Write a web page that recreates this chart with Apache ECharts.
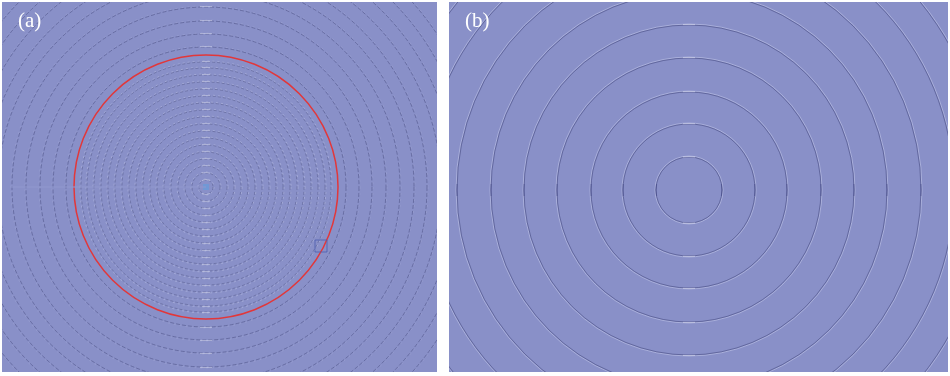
<!DOCTYPE html>
<html><head><meta charset="utf-8">
<script src="https://cdn.jsdelivr.net/npm/echarts@6/dist/echarts.min.js"></script>
<style>html,body{margin:0;padding:0;background:#fff}#c{width:950px;height:376px}</style>
</head><body><div id="c"></div>
<script>
// ---- data (units: pixel-equivalent distance from each pattern centre) ----
const panelLabels = ['(a)', '(b)'];
const ringsAInner = [7, 14, 21, 28, 35, 42, 49, 56, 63, 70, 77, 84, 91, 98, 105, 112, 119, 125];
const ringsAOuter = [140, 153, 166, 180, 194, 208, 221, 235, 249, 263, 277];
const redCircleA = [132];
const centerMarkA = [[0, 0]];
const zoomBoxA = [[115, -59]];
const seamA = [[-196, 0], [0, 0]];
const ringsB = [33, 66, 98, 132, 165, 198, 232, 265, 298, 331];

const BG = '#8990c8';

function ringRenderer(st) {
  return function (params, api) {
    const r = api.value(0);
    const c = api.coord([0, 0]);
    const e = api.coord([r, 0]);
    const rp = Math.abs(e[0] - c[0]);
    const cx = c[0], cy = c[1];
    const ch = [];
    if (st.light) ch.push({type: 'circle', shape: {cx, cy, r: rp + 1}, style: {fill: 'none', stroke: st.light, lineWidth: st.width, lineDash: st.lightDash || null}});
    ch.push({type: 'circle', shape: {cx, cy, r: rp}, style: {fill: 'none', stroke: st.dark, lineWidth: st.width, lineDash: st.dash || null}});
    if (st.hi) {
      const half = st.hiLen / rp;
      [-Math.PI / 2, Math.PI / 2].forEach(a => ch.push({type: 'arc', shape: {cx, cy, r: rp + 0.5, startAngle: a - half, endAngle: a + half}, style: {fill: 'none', stroke: st.hi, lineWidth: 1}}));
    }
    if (st.side) {
      const half = st.sideLen / rp;
      [0, Math.PI].forEach(a => ch.push({type: 'arc', shape: {cx, cy, r: rp, startAngle: a - half, endAngle: a + half}, style: {fill: 'none', stroke: st.side, lineWidth: 1.2}}));
    }
    return {type: 'group', children: ch};
  };
}

const chart = echarts.init(document.getElementById('c'), null, {renderer: 'canvas'});
const axisOff = {show: false, splitLine: {show: false}};
chart.setOption({
  animation: false,
  backgroundColor: '#ffffff',
  title: [
    {text: panelLabels[0], left: 13, top: 6, textStyle: {color: '#ffffff', fontFamily: 'Liberation Serif', fontWeight: 'normal', fontSize: 21}},
    {text: panelLabels[1], left: 460, top: 6, textStyle: {color: '#ffffff', fontFamily: 'Liberation Serif', fontWeight: 'normal', fontSize: 21}}
  ],
  grid: [
    {left: 2, top: 2, width: 435, height: 370, show: true, backgroundColor: BG, borderWidth: 0},
    {left: 449, top: 2, width: 499, height: 370, show: true, backgroundColor: BG, borderWidth: 0}
  ],
  xAxis: [
    Object.assign({type: 'value', gridIndex: 0, min: -204, max: 231}, axisOff),
    Object.assign({type: 'value', gridIndex: 1, min: -240, max: 259}, axisOff)
  ],
  yAxis: [
    Object.assign({type: 'value', gridIndex: 0, min: -185, max: 185}, axisOff),
    Object.assign({type: 'value', gridIndex: 1, min: -182, max: 188}, axisOff)
  ],
  series: [
    {type: 'custom', xAxisIndex: 0, yAxisIndex: 0, clip: true, silent: true,
      data: ringsAOuter.map(r => [r, 0]), encode: {x: 0, y: 1},
      renderItem: ringRenderer({dark: 'rgba(70,74,125,0.55)', width: 0.9, dash: [4, 2], light: 'rgba(225,228,250,0.15)', lightDash: [2, 4], hi: 'rgba(225,228,245,0.5)', hiLen: 6})},
    {type: 'custom', xAxisIndex: 0, yAxisIndex: 0, clip: true, silent: true,
      data: ringsAInner.map(r => [r, 0]), encode: {x: 0, y: 1},
      renderItem: ringRenderer({dark: 'rgba(80,84,130,0.5)', width: 0.9, dash: [3, 2], light: 'rgba(220,222,245,0.35)', lightDash: [2, 3], hi: 'rgba(220,222,240,0.5)', hiLen: 4})},
    {type: 'line', xAxisIndex: 0, yAxisIndex: 0, data: seamA, symbol: 'none', silent: true,
      lineStyle: {color: 'rgba(145,152,206,0.7)', width: 1.5}},
    {type: 'custom', xAxisIndex: 0, yAxisIndex: 0, clip: true, silent: true,
      data: redCircleA.map(r => [r, 0]), encode: {x: 0, y: 1},
      renderItem: ringRenderer({dark: '#e2373a', width: 1.5})},
    {type: 'scatter', xAxisIndex: 0, yAxisIndex: 0, data: centerMarkA, symbol: 'rect', symbolSize: 6, silent: true,
      itemStyle: {color: '#6b9ad8'}},
    {type: 'scatter', xAxisIndex: 0, yAxisIndex: 0, data: zoomBoxA, symbol: 'rect', symbolSize: 12, silent: true,
      itemStyle: {color: 'rgba(0,0,0,0)', borderColor: '#4c5cae', borderWidth: 1}},
    {type: 'custom', xAxisIndex: 1, yAxisIndex: 1, clip: true, silent: true,
      data: ringsB.map(r => [r, 0]), encode: {x: 0, y: 1},
      renderItem: ringRenderer({dark: 'rgba(58,62,115,0.5)', width: 1, light: 'rgba(230,232,252,0.35)', hi: 'rgba(240,242,255,0.5)', hiLen: 6, side: 'rgba(55,60,125,0.4)', sideLen: 6})}
  ]
});
</script></body></html>
